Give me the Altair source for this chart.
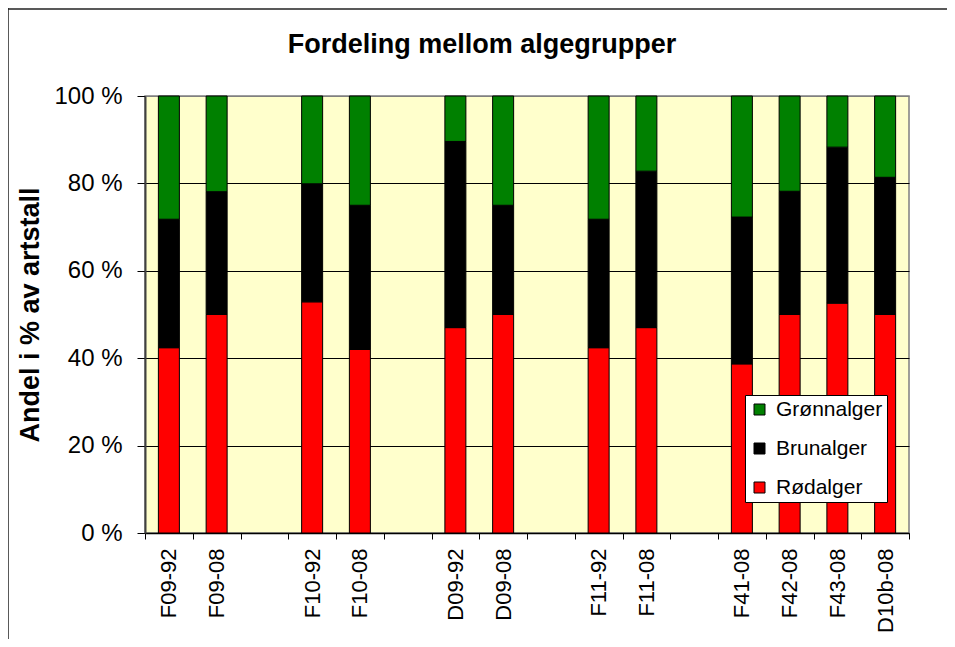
import altair as alt
import pandas as pd

# ---- data ----
sites = ["F09-92", "F09-08", "F10-92", "F10-08", "D09-92", "D09-08",
         "F11-92", "F11-08", "F41-08", "F42-08", "F43-08", "D10b-08"]
axis_order = ["F09-92", "F09-08", " ", "F10-92", "F10-08", "  ",
              "D09-92", "D09-08", "   ", "F11-92", "F11-08", "    ",
              "F41-08", "F42-08", "F43-08", "D10b-08"]
rodalger = [42.4, 50.0, 52.9, 42.0, 47.0, 50.0, 42.4, 47.0, 38.7, 50.0, 52.6, 50.0]
brunalger = [29.4, 28.1, 27.0, 33.0, 42.6, 25.0, 29.4, 35.8, 33.6, 28.2, 35.7, 31.4]
gronnalger = [28.2, 21.9, 20.1, 25.0, 10.4, 25.0, 28.2, 17.2, 27.7, 21.8, 11.7, 18.6]
groups = ["Grønnalger", "Brunalger", "Rødalger"]
group_colors = ["#008000", "#000000", "#FF0000"]
y_ticks = [0, 20, 40, 60, 80, 100]

rows = []
for i, s in enumerate(sites):
    rows.append({"site": s, "gruppe": "Rødalger", "andel": rodalger[i], "ord": 0})
    rows.append({"site": s, "gruppe": "Brunalger", "andel": brunalger[i], "ord": 1})
    rows.append({"site": s, "gruppe": "Grønnalger", "andel": gronnalger[i], "ord": 2})
df = pd.DataFrame(rows)

FONT = "Liberation Sans"

bars = alt.Chart(df).mark_bar(size=21, stroke="black", strokeWidth=1).encode(
    x=alt.X("site:N", scale=alt.Scale(domain=axis_order, paddingInner=0, paddingOuter=0),
            axis=alt.Axis(title=None, labelAngle=-90, labelFontSize=22, labelFont=FONT,
                          labelColor="black", tickBand="extent", tickSize=6,
                          labelPadding=9, domainColor="black", tickColor="black",
                          domainWidth=1.5, grid=False)),
    y=alt.Y("andel:Q", stack="zero", scale=alt.Scale(domain=[0, 100], nice=False),
            axis=alt.Axis(values=y_ticks, labelExpr="datum.value + ' %'",
                          labelFontSize=24, labelFont=FONT, labelColor="black",
                          title="Andel i % av artstall", titleFont=FONT,
                          titleFontSize=27, titleFontWeight="bold", titleColor="black",
                          titlePadding=9, tickSize=8, labelPadding=15,
                          tickColor="black", domainColor="#404040", domainWidth=2,
                          grid=True, gridOpacity=1, gridWidth=1,
                          gridColor={"condition": {"test": "datum.value >= 100", "value": "#808080"},
                                     "value": "black"})),
    color=alt.Color("gruppe:N", scale=alt.Scale(domain=groups, range=group_colors),
                    legend=alt.Legend(orient="none", legendX=600, legendY=299, title=None,
                                      fillColor="white", strokeColor="black", padding=4,
                                      symbolType="square", symbolSize=121,
                                      symbolStrokeColor="black", symbolStrokeWidth=1,
                                      labelFontSize=21, labelFont=FONT, labelColor="black",
                                      rowPadding=17, labelOffset=6)),
    order=alt.Order("ord:Q", sort="ascending"),
)

one = pd.DataFrame({"a": [0]})
frame_left = alt.Chart(one).mark_rule(color="#222222", strokeWidth=1.5).encode(
    x=alt.value(-137), y=alt.value(-88), y2=alt.value(560))
frame_top = alt.Chart(one).mark_rule(color="#222222", strokeWidth=1.5).encode(
    x=alt.value(-138), x2=alt.value(820), y=alt.value(-87))

chart = alt.layer(bars, frame_left, frame_top).properties(
    width=764, height=437,
    padding={"left": 137, "top": 88, "right": 38, "bottom": 106},
    autosize="none",
    title=alt.TitleParams("Fordeling mellom algegrupper", font=FONT, fontSize=27,
                          fontWeight="bold", color="black", anchor="middle",
                          frame="group", dx=-45, offset=-52),
).configure_view(fill="#FFFFCC", stroke="#808080", strokeWidth=1.5)

chart.save("out.html", embed_options={"renderer": "svg", "actions": False})
